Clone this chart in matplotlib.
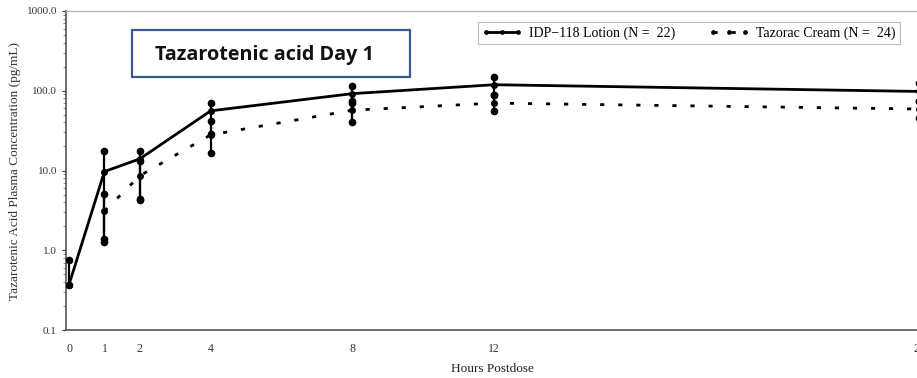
import matplotlib
matplotlib.use("Agg")
import matplotlib.pyplot as plt
from matplotlib.patches import Rectangle
import numpy as np

# Data
hours = [0, 1, 2, 4, 8, 12, 24]
idp_mean = [0.37, 9.7, 14.0, 56, 92, 119, 98]
idp_low = [0.37, 1.38, 4.3, 28.5, 70, 89, 75]
idp_high = [0.75, 17.4, 17.4, 71, 115, 150, 125]

taz_hours = [1, 2, 4, 8, 12, 24]
taz_mean = [3.1, 8.6, 28, 57, 70, 59]
taz_low = [1.26, 4.4, 16.5, 40, 56, 45]
taz_high = [5.1, 13.0, 42, 75, 89, 75]

xticks = [0, 1, 2, 4, 8, 12, 24]
yticks = [0.1, 1, 10, 100, 1000]
ytick_labels = ["0.1", "1.0", "10.0", "100.0", "1000.0"]

label_idp = "IDP\u2212118 Lotion (N =  22)"
label_taz = "Tazorac Cream (N =  24)"

serif = ["Liberation Serif", "DejaVu Serif"]

fig = plt.figure(figsize=(9.17, 3.78), dpi=100)
ax = fig.add_axes([66/917, 48/378, 853/917, (330-11)/378])

ax.set_yscale("log")
ax.set_xlim(-0.085, 24.0)
ax.set_ylim(0.1, 1000)

# error bars
for x, lo, hi in zip(hours, idp_low, idp_high):
    ax.plot([x, x], [lo, hi], color="black", lw=1.6, zorder=3)
    ax.plot([x, x], [lo, hi], "o", color="black", ms=4.5, zorder=4)
for x, lo, hi in zip(taz_hours, taz_low, taz_high):
    ax.plot([x, x], [lo, hi], color="black", lw=1.6, zorder=3)
    ax.plot([x, x], [lo, hi], "o", color="black", ms=4.5, zorder=4)

ax.plot(hours, idp_mean, "-", color="black", lw=2.0, marker="o", ms=4,
        label=label_idp, zorder=5)
ax.plot(taz_hours, taz_mean, color="black", lw=2.0, linestyle=(0, (1.5, 5)),
        marker="o", ms=4, label=label_taz, zorder=5)

ax.set_xticks(xticks)
ax.set_xticklabels([str(t) for t in xticks], fontfamily=serif, fontsize=8.5)
ax.set_yticks(yticks)
ax.set_yticklabels(ytick_labels, fontfamily=serif, fontsize=8)
ax.tick_params(axis="both", colors="#333333", length=3, width=0.8)
ax.tick_params(axis="x", length=0, pad=9)
ax.tick_params(axis="y", which="minor", length=2, width=0.6, colors="#777777")
ax.yaxis.set_minor_formatter(matplotlib.ticker.NullFormatter())

ax.set_xlabel("Hours Postdose", fontfamily=serif, fontsize=9.5, color="#222222", labelpad=6)
ax.set_ylabel("Tazarotenic Acid Plasma Concentration (pg/mL)", fontfamily=serif,
              fontsize=9.5, color="#333333", labelpad=4)

for s in ["left", "bottom"]:
    ax.spines[s].set_color("#555555")
    ax.spines[s].set_linewidth(1.2)
for s in ["top", "right"]:
    ax.spines[s].set_color("#bbbbbb")
    ax.spines[s].set_linewidth(1.0)

leg = ax.legend(loc="upper left", bbox_to_anchor=((478-66)/853, (330-22)/319), ncol=2,
                prop={"family": serif, "size": 10}, frameon=True, fancybox=False,
                edgecolor="#aaaaaa", numpoints=3, markerscale=0.6, handlelength=2.9,
                columnspacing=2.4, borderpad=0.3, handletextpad=0.5,
                borderaxespad=0)
leg.get_frame().set_linewidth(0.8)

# annotation box
fig.patches.append(Rectangle((132/917, 1 - 77/378), 278/917, 47/378,
                             transform=fig.transFigure, facecolor="white",
                             edgecolor="#3a5a8c", linewidth=1.6, zorder=10))
fig.text(264/917, 1 - 55/378, "Tazarotenic acid Day 1", ha="center", va="center",
         fontfamily=["Open Sans", "DejaVu Sans"], fontweight="bold", fontsize=14.2,
         color="#111111", zorder=11)

fig.savefig("out.png", dpi=100)
